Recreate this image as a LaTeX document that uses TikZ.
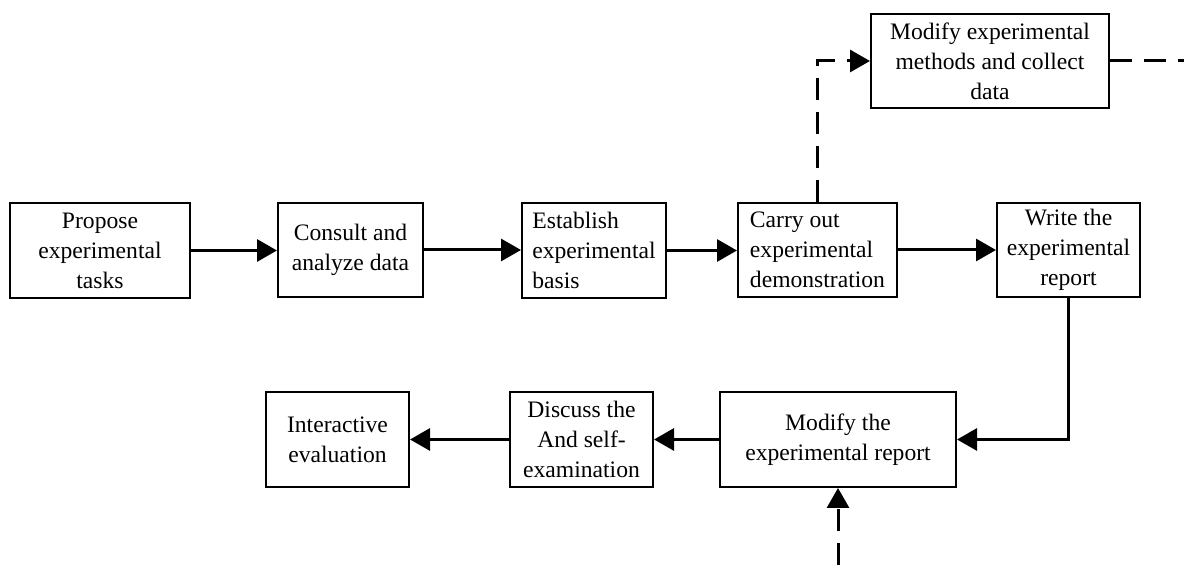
\documentclass[tikz,border=0pt]{standalone}
\usepackage{fontspec}
\setmainfont{Liberation Serif}
\usetikzlibrary{arrows.meta}
\begin{document}
\begin{tikzpicture}[x=0.5pt,y=-0.5pt,
  box/.style={draw, line width=1pt, inner sep=0pt, align=center,
    font=\fontsize{11.8}{15}\selectfont},
  arr/.style={line width=1.5pt, -{Triangle[length=10pt,width=11pt]}},
  dsh/.style={line width=1.5pt, dash pattern=on 11pt off 6pt}]
\useasboundingbox (0,0) rectangle (1184,565);
\node[box, minimum width=90pt, minimum height=47.5pt] (b1) at (100,250.5) {Propose\\experimental\\tasks};
\node[box, minimum width=72.5pt, minimum height=47pt] (b2) at (350.5,250) {Consult and\\analyze data};
\node[box, minimum width=72pt, minimum height=47.5pt, align=left] (b3) at (594,250.5) {Establish\\experimental\\basis};
\node[box, minimum width=79.5pt, minimum height=47pt, align=left] (b4) at (817.5,250) {Carry out\\experimental\\demonstration};
\node[box, minimum width=71.5pt, minimum height=47pt] (b5) at (1068.5,250) {Write the\\experimental\\report};
\node[box, minimum width=119pt, minimum height=47pt] (b6) at (990,61) {Modify experimental\\methods and collect\\data};
\node[box, minimum width=118pt, minimum height=47.5pt] (b7) at (838,439.5) {Modify the\\experimental report};
\node[box, minimum width=71.5pt, minimum height=47.5pt] (b8) at (581.5,439.5) {Discuss the\\And self-\\examination};
\node[box, minimum width=71.5pt, minimum height=47.5pt] (b9) at (337.5,439.5) {Interactive\\evaluation};
\coordinate (rightend) at (1184,61);
\coordinate (bottomend) at (838,565);
\draw[arr] (b1.east) -- (b1.east -| b2.west);
\draw[arr] (b2.east) -- (b2.east -| b3.west);
\draw[arr] (b3.east) -- (b3.east -| b4.west);
\draw[arr] (b4.east) -- (b4.east -| b5.west);
\draw[arr] (b5.south) |- (b7.east);
\draw[arr] (b7.west) -- (b8.east);
\draw[arr] (b8.west) -- (b9.east);
\draw[dsh, -{Triangle[length=10pt,width=11pt]}] (b4.north) |- (b6.west);
\draw[dsh] (b6.east) -- (rightend);
\draw[dsh, -{Triangle[length=10pt,width=11pt]}] (bottomend) -- (b7.south);
\end{tikzpicture}
\end{document}
